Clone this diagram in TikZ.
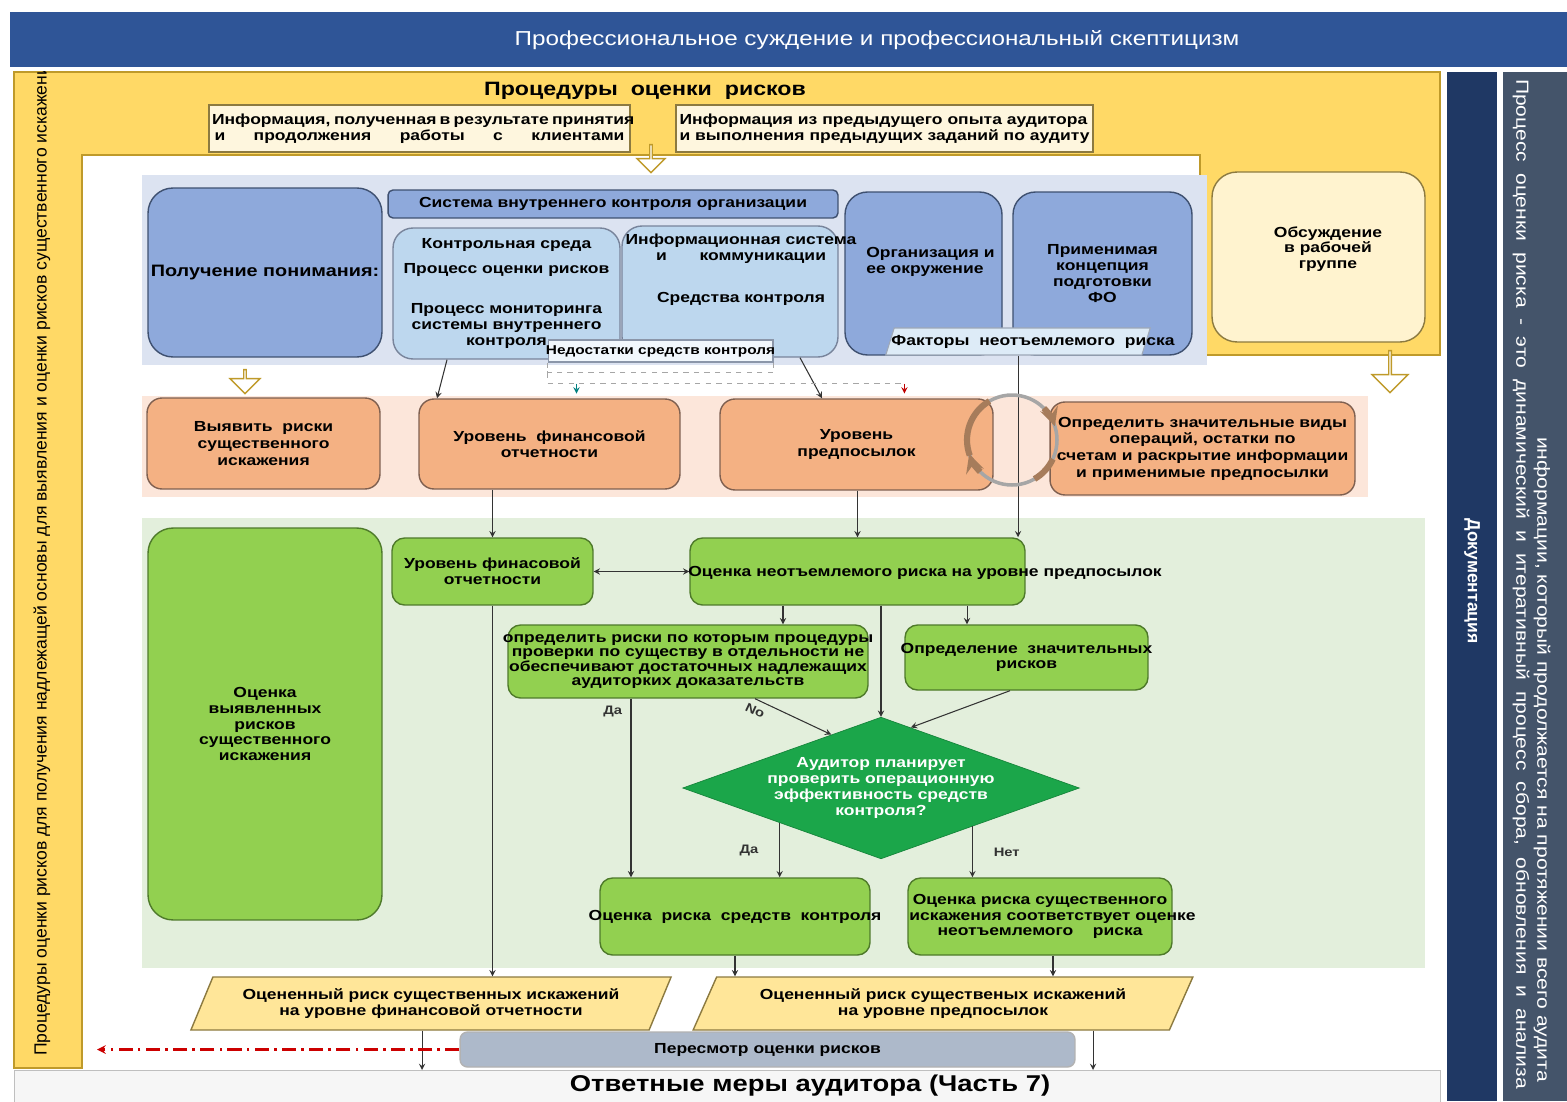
\documentclass[tikz,border=0pt]{standalone}
\usepackage{fontspec}
\setmainfont{Liberation Sans}[FakeStretch=1.2]
\newfontfamily\plainfont{Liberation Sans}
\usepackage{tikz}
\usetikzlibrary{shapes.geometric, shapes.arrows, arrows, calc, positioning}
\definecolor{barblue}{HTML}{2F5597}
\definecolor{yellowbg}{HTML}{FFD966}
\definecolor{yellowline}{HTML}{BF9A2A}
\definecolor{docblue}{HTML}{1F3864}
\definecolor{slate}{HTML}{44546A}
\definecolor{bandblue}{HTML}{DCE3F1}
\definecolor{bandorange}{HTML}{FCE6DA}
\definecolor{bandgreen}{HTML}{E3EFDC}
\definecolor{midblue}{HTML}{8EA9DB}
\definecolor{lightblue}{HTML}{BDD7EE}
\definecolor{blueline}{HTML}{3E5070}
\definecolor{orangefill}{HTML}{F4B183}
\definecolor{orangeline}{HTML}{7F6050}
\definecolor{greenfill}{HTML}{92D050}
\definecolor{greenline}{HTML}{4E7A2A}
\definecolor{decisiongreen}{HTML}{1BA64A}
\definecolor{cream}{HTML}{FEF6DE}
\definecolor{discussfill}{HTML}{FFF3CF}
\definecolor{infoline}{HTML}{8C7A40}
\definecolor{paleyellow}{HTML}{FFE699}
\definecolor{revisionfill}{HTML}{ADB9CA}
\definecolor{factorfill}{HTML}{DDEBF7}
\definecolor{cyclegray}{HTML}{A6A6A6}
\definecolor{cyclebrown}{HTML}{A67C5B}
\tikzstyle{bluebox} = [rectangle, rounded corners=0.45cm, draw=blueline, line width=0.8pt, fill=midblue, align=center, inner sep=1pt, font=\bfseries\fontsize{8.3}{9}\selectfont]
\tikzstyle{lightbox} = [rectangle, rounded corners=0.4cm, draw=blueline!70, line width=0.8pt, fill=lightblue, align=center, inner sep=1pt, font=\bfseries\fontsize{8.3}{9}\selectfont]
\tikzstyle{orangebox} = [rectangle, rounded corners=0.3cm, draw=orangeline, line width=0.8pt, fill=orangefill, align=center, inner sep=1pt, font=\bfseries\fontsize{8.3}{9.5}\selectfont]
\tikzstyle{greenbox} = [rectangle, rounded corners=0.25cm, draw=greenline, line width=0.8pt, fill=greenfill, align=center, inner sep=1pt, font=\bfseries\fontsize{8.3}{9}\selectfont]
\tikzstyle{infobox} = [rectangle, draw=infoline, line width=0.8pt, fill=cream, inner sep=1pt, font=\bfseries\fontsize{8.3}{9}\selectfont]
\tikzstyle{discussbox} = [rectangle, rounded corners=0.5cm, draw=infoline, line width=0.8pt, fill=discussfill, align=center, inner sep=1pt, font=\bfseries\fontsize{8.3}{9}\selectfont]
\tikzstyle{defbox} = [rectangle, draw=blueline!60, line width=0.6pt, fill=factorfill!40, inner sep=1pt, font=\bfseries\fontsize{7.3}{8}\selectfont]
\tikzstyle{factorbox} = [trapezium, trapezium left angle=65, trapezium right angle=115, trapezium stretches=true, draw=blueline!50, line width=0.6pt, fill=factorfill, inner sep=1pt, align=center, font=\bfseries\fontsize{8.3}{9}\selectfont]
\tikzstyle{assessedbox} = [trapezium, trapezium left angle=60, trapezium right angle=120, trapezium stretches=true, draw=infoline, line width=0.8pt, fill=paleyellow, align=center, inner sep=1pt, font=\bfseries\fontsize{8.3}{9}\selectfont]
\tikzstyle{revisionbox} = [rectangle, rounded corners=0.15cm, draw=gray!60, line width=0.8pt, fill=revisionfill, inner sep=1pt, font=\bfseries\fontsize{8.3}{9}\selectfont]
\tikzstyle{decision} = [diamond, aspect=2.8, fill=decisiongreen, draw=decisiongreen!80!black, text=white, minimum width=7.88cm, minimum height=2.8cm, inner sep=0, align=center, font=\bfseries\fontsize{8.3}{9}\selectfont]
\tikzstyle{boxtext} = [inner sep=0, align=center, font=\bfseries\fontsize{8.3}{9}\selectfont]
\tikzstyle{hollowarrow} = [single arrow, draw=yellowline, fill=white, line width=0.8pt, shape border rotate=270, inner sep=0]
\tikzstyle{arrow} = [->, >=stealth, line width=0.6pt, draw=black!80]
\tikzstyle{dashline} = [dashed, draw=gray!70, line width=0.6pt]
\tikzstyle{revisionline} = [->, >=stealth, dash pattern=on 8pt off 3pt on 1.5pt off 3pt, draw=red!80!black, line width=1.2pt]
\tikzstyle{cyclearrow} = [draw=cyclebrown, line width=3.5pt]
\tikzstyle{flowlabel} = [font=\bfseries\fontsize{7}{8}\selectfont, text=black!80]

\begin{document}
\begin{tikzpicture}[x=0.02cm, y=-0.02cm]
		\useasboundingbox (0,0) rectangle (1567,1101);
		\fill[white] (0,0) rectangle (1567,1101);
		\fill[barblue] (10,12) rectangle (1567,67);
		\node (TopTitle) [text=white, font=\fontsize{11.5}{13}\selectfont] at (877,40) {Профессиональное суждение и профессиональный скептицизм};
		\fill[yellowbg, draw=yellowline, line width=0.8pt] (14,72) -- (1440,72) -- (1440,355) -- (1200,355) -- (1200,155) -- (82,155) -- (82,1068) -- (14,1068) -- cycle;
		\fill[docblue] (1447,72) rectangle (1497,1101);
		\fill[slate] (1503,72) rectangle (1567,1101);
		\fill[bandblue] (142,175) rectangle (1207,365);
		\fill[bandorange] (142,396) rectangle (1368,497);
		\fill[bandgreen] (142,518) rectangle (1425,968);
		\node (ResponseBar) [fill=gray!7, draw=gray!50, line width=0.8pt, anchor=north west, minimum width=28.52cm, minimum height=0.66cm, inner sep=0] at (14,1070) {};
		\node (ResponseText) [font=\bfseries\fontsize{13}{15}\selectfont] at (810,1086) {Ответные меры аудитора (Часть 7)};

		\begin{scope}
			\clip (14,72) rectangle (82,1068);
			\node (SideProcedures) [rotate=90, anchor=west, font=\plainfont\fontsize{10}{12}\selectfont] at (42,1062) {Процедуры оценки рисков для получения надлежащей основы для выявления и оценки рисков существенного искажения};
		\end{scope}
		\node (Documentation) [rotate=-90, text=white, font=\plainfont\bfseries\fontsize{10}{12}\selectfont] at (1472,581) {Документация};
		\node (ProcessNoteA) [rotate=-90, text=white, font=\fontsize{10}{12}\selectfont] at (1521,584) {\makebox[20.2cm][s]{Процесс оценки риска - это динамический и итеративный процесс сбора, обновления и анализа}};
		\node (ProcessNoteB) [rotate=-90, anchor=east, text=white, font=\fontsize{10}{12}\selectfont] at (1542,1088) {информации, который продолжается на протяжении всего аудита};

		\node (RiskProcTitle) [font=\bfseries\fontsize{11}{13}\selectfont] at (645,91) {Процедуры\ \ оценки\ \ рисков};
		\node (ClientInfo) [infobox, align=center, minimum width=8.42cm, minimum height=0.94cm] at (419.5,128.5) {\makebox[8.3cm][s]{Информация, полученная в результате принятия}\\\makebox[8.2cm][s]{и продолжения работы с клиентами}};
		\node (AuditorInfo) [infobox, align=left, minimum width=8.34cm, minimum height=0.94cm] at (884.5,128.5) {Информация из предыдущего опыта аудитора\\и выполнения предыдущих заданий по аудиту};
		\node (ArrowTop) [hollowarrow, minimum height=0.56cm, minimum width=0.56cm, single arrow head extend=0.14cm] at (651,158) {};

		\node (Understanding) [bluebox, rounded corners=0.5cm, minimum width=4.68cm, minimum height=3.38cm, font=\bfseries\fontsize{9.4}{11}\selectfont] at (265,272.5) {\makebox[0pt]{Получение понимания:}};
		\node (InternalControl) [bluebox, rounded corners=0.1cm, minimum width=9cm, minimum height=0.56cm] at (613,204) {Система внутреннего контроля организации};
		\node (ControlEnv) [lightbox, minimum width=4.54cm, minimum height=2.62cm] at (506.5,293.5) {Контрольная среда\\[5pt]Процесс оценки рисков\\[14pt]Процесс мониторинга\\системы внутреннего\\контроля};
		\node (InfoSys) [lightbox, minimum width=4.32cm, minimum height=2.62cm] at (730,291.5) {};
		\node (OrgEnv) [bluebox, minimum width=3.14cm, minimum height=3.26cm] at (923.5,273.5) {};
		\node (OrgEnvText) [boxtext, align=left, anchor=west] at (866,262) {Организация и\\ее окружение};
		\node (InfoSysText) [boxtext] at (741,269.5) {Информационная система\\\makebox[3.4cm][s]{и коммуникации}\\[15pt]Средства контроля};
		\node (Framework) [bluebox, minimum width=3.58cm, minimum height=3.26cm] at (1102.5,273.5) {Применимая\\концепция\\подготовки\\ФО};
		\node (Deficiencies) [defbox, minimum width=4.5cm, minimum height=0.44cm] at (660.5,351) {\makebox[0pt]{Недостатки средств контроля}};
		\node (InherentFactors) [factorbox, text width=4.5cm, minimum width=5.3cm, minimum height=0.54cm] at (1018,341.5) {\makebox[\linewidth]{\hspace{0.6cm}Факторы\ \ неотъемлемого\ \ риска}};
		\node (Discussion) [discussbox, minimum width=4.26cm, minimum height=3.4cm] at (1318.5,257) {};
		\node (DiscussionText) [boxtext] at (1328,249) {Обсуждение\\в рабочей\\группе};
		\node (ArrowLeft) [hollowarrow, minimum height=0.48cm, minimum width=0.6cm, single arrow head extend=0.15cm] at (245,381) {};
		\node (ArrowRight) [hollowarrow, minimum height=0.84cm, minimum width=0.72cm, single arrow head extend=0.18cm] at (1390,371) {};

		\node (IdentifyRisks) [orangebox, minimum width=4.66cm, minimum height=1.82cm] at (263.5,443.5) {Выявить\ \ риски\\существенного\\искажения};
		\node (FSLevel) [orangebox, minimum width=5.22cm, minimum height=1.8cm] at (549.5,444) {Уровень\ \ финансовой\\отчетности};
		\node (AssertLevel) [orangebox, minimum width=5.46cm, minimum height=1.82cm] at (856.5,444.5) {Уровень\\предпосылок};
		\node (SignificantClasses) [orangebox, text width=5.9cm, minimum width=6.1cm, minimum height=1.86cm] at (1202.5,448.5) {\makebox[\linewidth]{Определить значительные виды}\\операций, остатки по\\\makebox[\linewidth]{счетам и раскрытие информации}\\и применимые предпосылки};

		\node (AssessIdentified) [greenbox, rounded corners=0.5cm, minimum width=4.68cm, minimum height=7.84cm] at (265,724) {Оценка\\выявленных\\рисков\\существенного\\искажения};
		\node (FSLevelGreen) [greenbox, minimum width=4.02cm, minimum height=1.34cm] at (492.5,571.5) {\makebox[0pt]{Уровень финасовой}\\отчетности};
		\node (InherentAssess) [greenbox, minimum width=6.7cm, minimum height=1.34cm] at (857.5,571.5) {};
		\node (InherentAssessText) [boxtext] at (925,573) {Оценка неотъемлемого риска на уровне предпосылок};
		\node (SubstOnly) [greenbox, font=\bfseries\fontsize{8.3}{8.2}\selectfont, text width=7.0cm, minimum width=7.2cm, minimum height=1.46cm] at (688,661.5) {\makebox[\linewidth]{определить риски по которым процедуры}\\\makebox[\linewidth]{проверки по существу в отдельности не}\\\makebox[\linewidth]{обеспечивают достаточных надлежащих}\\аудиторких доказательств};
		\node (SignificantRisks) [greenbox, text width=4.7cm, minimum width=4.86cm, minimum height=1.3cm] at (1026.5,657.5) {\makebox[\linewidth]{Определение\ \ значительных}\\рисков};
		\node (Decision) [decision] at (881,788) {Аудитор планирует\\проверить операционную\\эффективность средств\\контроля?};
		\node (ControlRisk) [greenbox, minimum width=5.4cm, minimum height=1.54cm] at (735,916.5) {\makebox[0pt]{Оценка\ \ риска\ \ средств\ \ контроля}};
		\node (RMMInherent) [greenbox, text width=5.1cm, minimum width=5.28cm, minimum height=1.54cm] at (1040,916.5) {Оценка риска существенного\\\makebox[\linewidth]{\hspace{0.5cm}искажения соответствует оценке}\\неотъемлемого\ \ \ \ риска};

		\node (AssessedFS) [assessedbox, minimum width=9.64cm, minimum height=1.06cm] at (431,1003.5) {Оцененный риск существенных искажений\\на уровне финансовой отчетности};
		\node (AssessedAssert) [assessedbox, minimum width=10cm, minimum height=1.06cm] at (943,1003.5) {Оцененный риск существеных искажений\\на уровне предпосылок};
		\node (Revision) [revisionbox, minimum width=12.3cm, minimum height=0.7cm] at (767.5,1049.5) {Пересмотр оценки рисков};
		\coordinate (RevisionBack) at (97,1049.5);

		\draw [arrow] ([xshift=-1.19cm]ControlEnv.south) -- ([xshift=-2.25cm]FSLevel.north);
		\draw [arrow] ([xshift=1.4cm]InfoSys.south) -- ([xshift=-0.69cm]AssertLevel.north);
		\coordinate (DashCorner) at ([yshift=-0.42cm]Deficiencies.south west);
		\draw [dashline] (Deficiencies.south west) -- (DashCorner) -- ([xshift=7.14cm]DashCorner);
		\draw [dashline] (Deficiencies.south east) -- ([yshift=-0.2cm]Deficiencies.south east) -| (Deficiencies.south west);
		\draw [->, >=stealth, line width=0.6pt, teal] ([xshift=0.58cm]DashCorner) -- ([xshift=0.58cm, yshift=-0.2cm]DashCorner);
		\draw [->, >=stealth, line width=0.6pt, red!75!black] ([xshift=7.14cm]DashCorner) -- ([xshift=7.14cm, yshift=-0.2cm]DashCorner);
		\draw [arrow] (FSLevelGreen.north |- FSLevel.south) -- (FSLevelGreen.north);
		\draw [arrow] (InherentAssess.north |- AssertLevel.south) -- (InherentAssess.north);
		\draw [arrow] (InherentFactors.south) -- (InherentFactors.south |- InherentAssess.north);
		\draw [arrow, <->] (FSLevelGreen.east) -- (InherentAssess.west);
		\draw [arrow] ([xshift=1.9cm]SubstOnly.north |- InherentAssess.south) -- ([xshift=1.9cm]SubstOnly.north);
		\draw [arrow] ([xshift=-1.19cm]SignificantRisks.north |- InherentAssess.south) -- ([xshift=-1.19cm]SignificantRisks.north);
		\draw [arrow] (Decision.north |- InherentAssess.south) -- (Decision.north);
		\draw [arrow] ([xshift=1.34cm]SubstOnly.south) -- node[flowlabel, pos=0.06, below=0pt, sloped]{No} ($(Decision.north)!0.25!(Decision.west)$);
		\draw [arrow] ([xshift=-0.33cm]SignificantRisks.south) -- ($(Decision.north)!0.15!(Decision.east)$);
		\draw [arrow] ([xshift=-1.14cm]SubstOnly.south) -- node[flowlabel, pos=0.07, left=0.5mm]{Да} ([xshift=-1.14cm]SubstOnly.south |- ControlRisk.north);
		\coordinate (DecisionYes) at ($(Decision.west)!0.49!(Decision.south)$);
		\coordinate (DecisionNo) at ($(Decision.south)!0.46!(Decision.east)$);
		\draw [arrow] (DecisionYes) -- node[flowlabel, midway, left=3mm]{Да} (DecisionYes |- ControlRisk.north);
		\draw [arrow] (DecisionNo) -- node[flowlabel, midway, right=3mm]{Нет} (DecisionNo |- RMMInherent.north);
		\draw [arrow] (FSLevelGreen.south) -- (FSLevelGreen.south |- AssessedFS.north);
		\draw [arrow] (ControlRisk.south) -- (ControlRisk.south |- AssessedAssert.north);
		\draw [arrow] ([xshift=0.26cm]RMMInherent.south) -- ([xshift=0.26cm]RMMInherent.south |- AssessedAssert.north);
		\draw [arrow] ([xshift=-0.18cm]AssessedFS.south) -- ([xshift=-0.18cm]AssessedFS.south |- ResponseBar.north);
		\draw [arrow] ([xshift=3cm]AssessedAssert.south) -- ([xshift=3cm]AssessedAssert.south |- ResponseBar.north);
		\draw [revisionline] (Revision.west) -- (RevisionBack);

		\node (Cycle) [circle, draw=cyclegray, line width=2pt, minimum size=1.8cm, inner sep=0, outer sep=0] at (1012,440) {};
		\begin{scope}[shift={(Cycle.center)}, x=1cm, y=1cm]
			\draw [cyclearrow] (200:0.9) arc[start angle=200, end angle=120, radius=0.9];
			\draw [cyclearrow, ->, >=stealth] (45:0.9) arc[start angle=45, end angle=18, radius=0.9];
			\draw [cyclearrow] (-25:0.9) arc[start angle=-25, end angle=-60, radius=0.9];
			\draw [cyclearrow, ->, >=stealth] (-135:0.9) arc[start angle=-135, end angle=-162, radius=0.9];
		\end{scope}
\end{tikzpicture}
\end{document}
